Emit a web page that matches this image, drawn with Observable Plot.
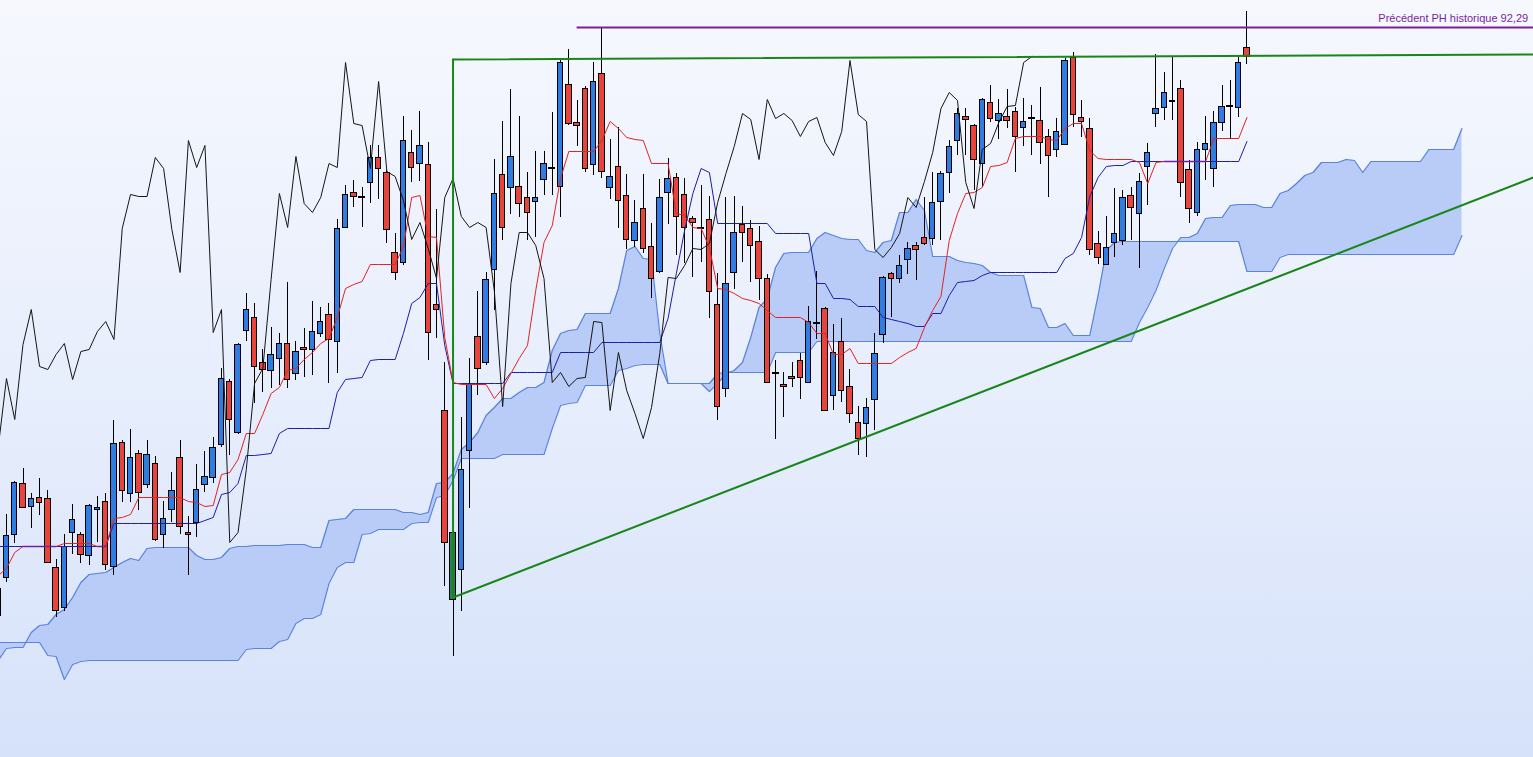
<!DOCTYPE html>
<html><head><meta charset="utf-8">
<script src="https://cdn.jsdelivr.net/npm/d3@7"></script>
<script src="https://cdn.jsdelivr.net/npm/@observablehq/plot@0.6"></script>
<style>html,body{margin:0;padding:0;overflow:hidden;background:#eef3fd}#chart svg{display:block}</style>
</head><body><div id="chart"></div>
<script>
// ---- candle data (index k = bar number) ----
const open = [
33.5,37.3,41.6,46.7,44.4,45.3,45.2,38.3,34.3,41.8,
41.6,39.5,44.1,44.9,38.4,50.8,45.7,49.7,46.6,48.7,
41.6,44.1,49.3,41.8,42.8,46.6,47.3,50.6,56.9,51.8,
62.0,63.3,58.8,58.0,59.2,60.7,57.7,60.3,60.1,61.7,
63.6,60.9,72.3,75.8,75.4,76.8,79.3,77.8,69.8,68.8,
79.8,78.7,78.6,64.6,54.0,35.1,38.1,50.0,61.4,58.8,
68.1,77.6,76.3,76.4,75.3,74.9,77.1,78.3,76.4,86.6,
82.8,86.2,78.6,87.7,76.3,78.4,75.5,71.0,74.2,70.4,
67.9,75.8,77.3,75.6,73.2,72.3,73.1,64.6,56.2,67.8,
72.6,72.2,70.9,67.2,57.8,56.6,57.4,59.0,56.8,62.8,
64.2,55.5,60.9,56.4,52.8,52.7,55.1,61.6,67.7,67.2,
69.1,70.5,71.3,71.2,74.9,77.8,81.0,83.4,82.5,78.7,
84.8,83.0,83.4,83.9,82.3,83.3,83.0,81.4,80.1,80.6,
89.3,83.3,82.2,70.7,68.6,70.8,71.0,75.5,73.7,78.4,
83.7,84.3,85.0,86.2,78.1,73.8,80.1,78.2,82.8,84.5,
84.3,90.3];
const close = [
36.2,41.5,46.8,44.3,45.2,44.8,38.8,34.0,40.4,43.1,
39.6,44.5,44.3,38.6,50.7,46.0,49.3,45.8,49.6,41.1,
43.2,46.0,42.4,41.6,46.1,47.4,50.3,57.2,53.1,60.6,
64.1,58.4,58.1,59.6,60.7,57.1,59.9,60.1,61.9,62.9,
61.1,72.2,75.6,75.4,75.4,79.3,78.2,72.1,67.8,81.0,
78.3,80.5,61.8,64.1,40.8,41.8,48.1,56.7,58.2,67.1,
75.7,72.3,79.4,74.7,73.8,75.3,78.7,78.3,88.8,82.7,
82.5,78.2,86.9,77.9,77.4,75.0,71.1,72.8,70.2,67.2,
75.3,77.2,73.4,72.3,72.8,72.3,65.9,54.4,66.7,71.8,
71.8,70.5,67.2,56.8,57.8,56.4,57.2,57.3,62.9,62.8,
54.0,59.8,56.0,53.7,51.2,54.3,59.7,67.3,67.2,68.5,
70.2,70.1,70.7,74.8,77.7,80.4,83.7,83.1,79.1,85.1,
83.2,83.7,83.0,81.4,82.9,83.3,80.8,79.5,81.9,89.0,
83.6,82.9,70.1,69.3,70.3,71.7,75.3,74.3,76.9,79.8,
84.2,85.8,85.0,76.8,74.2,80.1,80.7,82.8,84.4,84.5,
88.8,89.4];
const high = [
36.5,43.6,46.9,48.2,45.7,47.2,46.0,39.1,41.6,44.6,
41.8,44.6,45.4,45.7,53.0,51.0,52.1,50.0,51.0,49.4,
44.9,47.8,51.0,43.4,48.6,49.9,51.3,58.2,57.1,60.7,
65.7,64.7,60.1,62.3,61.7,66.8,60.9,62.2,64.9,64.3,
64.7,73.1,76.5,77.0,76.3,80.5,80.5,78.0,71.7,83.4,
82.0,83.9,80.8,74.1,58.8,42.5,53.3,59.2,65.9,67.8,
79.1,82.9,86.1,83.4,77.8,79.9,79.9,83.8,89.2,90.1,
85.0,86.4,88.8,92.3,81.1,82.3,77.6,75.0,77.6,72.7,
77.1,79.2,77.7,77.2,73.4,76.5,75.4,67.7,75.3,75.4,
74.4,73.0,72.4,67.6,59.0,57.8,58.8,59.7,64.4,67.9,
64.3,62.6,63.2,58.1,54.4,55.2,61.7,67.4,67.8,69.5,
70.8,70.8,75.3,77.8,77.9,81.0,84.2,84.2,82.6,85.2,
86.5,85.1,86.1,84.3,85.2,84.5,86.3,82.1,83.2,89.2,
89.8,85.0,83.2,71.9,73.4,76.2,76.0,76.3,77.7,80.7,
89.6,87.8,89.3,87.0,79.0,80.8,83.4,83.9,86.5,87.0,
89.5,93.9];
const low = [
33.2,36.8,40.7,44.2,42.2,43.5,38.7,33.3,33.9,39.6,
38.7,38.5,40.8,38.0,37.5,44.8,44.8,44.0,46.2,40.9,
40.2,42.8,41.6,37.5,41.3,45.8,46.7,50.3,49.5,51.6,
60.9,54.7,55.8,56.2,56.5,56.2,57.0,57.3,57.5,61.3,
56.7,57.7,72.2,74.3,72.3,74.7,75.1,70.7,67.0,68.5,
76.8,76.9,59.0,61.2,36.4,29.4,33.9,44.2,55.5,58.5,
64.0,71.0,73.6,73.3,71.0,71.3,75.5,75.5,73.3,82.5,
80.4,77.8,77.5,77.2,75.1,72.2,70.1,70.3,69.7,65.2,
67.7,72.6,69.5,68.7,67.3,68.8,63.2,53.0,55.3,66.1,
68.8,66.8,65.0,56.7,51.1,53.3,56.3,55.1,56.7,61.1,
53.9,54.0,54.8,52.7,49.5,49.3,52.0,60.7,63.3,66.7,
67.6,67.0,70.5,70.5,71.0,75.7,79.5,79.5,76.0,76.3,
82.8,81.1,82.2,77.8,80.4,79.5,78.6,75.3,79.3,80.5,
82.3,81.3,69.5,68.6,68.5,69.3,70.5,71.0,68.2,74.5,
82.3,83.0,83.0,75.3,72.7,73.4,77.0,76.3,81.9,81.1,
83.3,88.6];
// highlighted bar (the low that anchors the triangle)
const highlightBars = [55];

// ---- Ichimoku lines ----
const tenkan = [
37.5,38.2,39.8,40.4,40.4,40.4,40.4,40.4,40.7,40.7,
40.7,40.7,40.4,40.4,43.2,43.3,43.6,45.3,45.3,45.3,
45.3,45.3,45.3,44.9,44.8,44.4,44.5,47.6,47.8,49.1,
51.7,51.7,53.6,55.7,56.3,58.0,58.2,59.1,59.8,60.7,
61.2,63.3,66.2,66.6,66.9,68.6,68.6,68.6,68.6,70.4,
75.3,75.5,71.4,71.3,61.3,56.8,56.6,56.6,56.6,56.6,
55.2,56.2,57.7,59.2,60.5,66.0,70.8,72.5,77.2,79.9,
79.9,79.9,79.9,81.0,82.9,82.2,81.3,81.1,81.0,78.7,
78.7,78.7,73.7,73.5,72.3,72.2,70.3,66.2,66.1,65.7,
65.2,65.0,64.7,64.0,63.3,63.3,63.3,63.3,62.8,61.7,
61.7,59.6,59.6,60.2,58.7,58.7,58.7,58.7,58.7,59.3,
59.8,60.2,62.3,64.0,65.4,71.0,73.7,75.7,75.8,76.3,
78.4,78.5,78.8,81.2,81.4,81.4,81.4,81.1,81.0,82.2,
82.7,82.7,80.0,79.2,79.1,79.1,79.1,79.1,78.8,76.7,
78.8,78.9,78.9,78.9,78.9,78.9,78.9,81.2,81.2,81.2,
81.2,83.3];
const kijun = [
40.4,40.4,40.4,40.4,40.4,40.4,40.4,40.4,40.4,40.4,
40.4,40.4,40.4,40.4,42.7,42.7,42.7,42.7,42.7,42.7,
42.7,42.7,42.7,42.7,42.7,43.0,43.3,45.6,45.8,46.7,
49.5,49.5,49.6,49.7,51.7,52.2,52.2,52.2,52.2,52.2,
52.2,55.8,57.1,57.2,57.3,59.0,59.1,59.1,59.1,61.7,
64.7,65.3,66.7,66.7,60.5,56.7,56.7,56.7,56.7,56.7,
56.7,56.7,57.8,57.8,57.8,57.8,57.8,57.8,59.8,59.8,
59.8,59.8,59.8,60.8,60.8,60.8,60.8,60.8,60.8,60.8,
60.8,63.2,67.7,72.0,75.7,78.2,77.8,72.7,72.7,72.7,
72.7,72.7,72.7,72.7,71.7,71.7,71.7,71.7,71.7,66.7,
66.7,65.2,65.2,65.1,64.4,64.4,64.4,63.3,63.1,62.9,
62.7,62.4,62.4,63.7,63.7,65.5,66.8,66.9,67.0,67.5,
67.8,67.8,67.8,67.8,67.8,67.8,67.8,67.8,67.8,69.2,
69.7,71.3,75.4,77.3,78.4,78.5,78.5,78.9,78.9,78.9,
78.9,78.9,78.9,78.9,78.9,78.9,78.9,78.9,78.9,78.9,
78.9,80.9];
// cloud edges, bars 0..177 (extends 26 bars past the last candle)
const spanA = [
29.0,30.2,30.3,30.3,31.8,32.5,32.6,33.6,34.1,35.3,
36.8,37.6,37.7,37.8,38.3,38.8,39.2,39.0,40.2,40.3,
40.3,40.3,40.3,40.3,39.5,39.1,39.1,39.3,40.2,40.4,
40.4,40.5,40.5,40.5,40.5,40.6,40.6,40.6,40.3,40.3,
43.0,43.1,43.2,44.1,44.1,44.1,44.1,44.1,44.1,43.8,
43.8,43.6,43.8,46.7,46.8,47.7,50.1,50.8,51.8,53.5,
54.3,55.2,55.2,55.8,56.3,56.3,56.8,60.0,61.7,62.0,
62.1,63.7,63.7,63.7,63.7,66.2,70.0,70.4,69.2,69.1,
61.7,56.7,56.7,56.7,56.7,56.7,55.9,56.7,57.7,58.0,
58.8,61.3,64.3,65.2,68.3,69.7,69.8,69.8,69.8,71.2,
71.8,71.5,71.2,71.1,71.1,70.0,69.8,70.8,71.0,73.8,
73.8,75.1,74.0,69.4,69.4,69.4,69.0,68.8,68.7,68.5,
67.8,67.5,67.5,67.5,67.5,64.3,64.2,62.3,62.3,62.7,
61.5,61.5,61.5,65.5,70.0,70.8,70.9,70.9,70.9,70.9,
70.9,70.9,70.9,70.9,70.9,70.9,70.9,70.9,70.9,70.9,
70.9,67.9,67.9,67.9,67.9,69.3,69.6,69.6,69.6,69.6,
69.6,69.6,69.6,69.6,69.6,69.6,69.6,69.6,69.6,69.6,
69.6,69.6,69.6,69.6,69.6,69.6,69.6,71.5];
const spanB = [
30.8,30.8,30.8,30.8,30.8,30.8,29.5,29.4,27.1,28.6,
28.9,29.0,29.0,29.0,29.0,29.0,29.0,29.0,29.0,29.0,
29.0,29.0,29.0,29.0,29.0,29.0,29.0,29.0,29.0,29.0,
30.1,30.2,30.2,30.2,30.9,31.1,32.7,33.2,33.2,33.6,
36.7,38.3,38.8,38.8,41.6,41.7,42.1,42.1,42.1,42.1,
42.7,42.8,42.8,45.3,45.5,47.0,49.2,49.2,49.2,49.2,
49.2,49.6,49.6,49.6,49.6,49.6,49.6,52.2,54.5,54.7,
54.8,56.5,56.5,56.5,56.5,58.0,58.2,58.5,58.6,58.6,
58.6,56.7,56.7,56.7,56.7,56.7,56.7,57.7,57.8,57.8,
57.8,57.8,57.8,57.8,59.8,59.8,59.8,59.8,59.8,60.9,
60.9,60.9,60.9,60.9,60.9,60.9,60.9,60.9,60.9,60.9,
60.9,60.9,60.9,60.9,60.9,60.9,60.9,60.9,60.9,60.9,
60.9,60.9,60.9,60.9,60.9,60.9,60.9,60.9,60.9,60.9,
60.9,60.9,60.9,60.9,60.9,60.9,60.9,60.9,62.8,64.3,
66.0,68.2,70.2,71.3,71.3,71.7,73.2,73.3,73.3,74.5,
74.6,74.6,74.6,74.3,74.3,75.7,76.0,76.7,77.5,77.8,
78.8,78.8,78.8,79.1,79.0,77.8,78.9,78.9,78.9,78.9,
78.9,78.9,78.9,80.1,80.1,80.1,80.1,82.2];
const chikouShift = 26;

// ---- drawn annotations ----
const xMin = 0.278, xMax = 185.65;   // visible bar range
const yMin = 19.3, yMax = 95;        // visible price range
const trendNames = ["vertical", "resistance", "support"];
const trendBars  = [[55, 55], [55, xMax], [55, xMax]];
const trendPrice = [[35.3, 89.1], [89.1, 89.6], [35.3, 77.3]];
const phLevel = 92.29, phStartBar = 70;
const phLabel = "Précédent PH historique 92,29";

// ---- build tables ----
const bars = open.map((o, k) => ({k, o, c: close[k], h: high[k], l: low[k]}));
const up = bars.filter(d => d.c > d.o && !highlightBars.includes(d.k));
const down = bars.filter(d => d.c < d.o && !highlightBars.includes(d.k));
const hl = bars.filter(d => highlightBars.includes(d.k));
const doji = bars.filter(d => d.c === d.o);
const ind = tenkan.map((t, k) => ({k, t, j: kijun[k]}));
const both = ind.map(d => ({k: d.k, v: d.t === d.j ? d.t : NaN}));
const cloud = spanA.map((a, k) => ({k, a, b: spanB[k]}));
const chikou = close.slice(chikouShift).map((c, i) => ({k: i, c}));
const trend = trendNames.flatMap((n, i) => trendBars[i].map((k, j) => ({n, k, p: trendPrice[i][j]})));
const hw = 0.33;
const body = (data, fill) => Plot.rect(data, {x1: d => d.k - hw, x2: d => d.k + hw, y1: "o", y2: "c",
  fill, stroke: "#000", strokeWidth: 1, shapeRendering: "crispEdges"});

const chart = Plot.plot({
  width: 1533, height: 757,
  marginTop: 0, marginRight: 0, marginBottom: 0, marginLeft: 0,
  style: {background: "linear-gradient(180deg, #f6f8fe 0%, #e6edfc 55%, #d6e2fa 100%)"},
  x: {type: "linear", domain: [xMin, xMax], axis: null},
  y: {type: "linear", domain: [yMin, yMax], axis: null},
  marks: [
    Plot.areaY(cloud, {x: "k", y1: "a", y2: "b", fill: "#b8ccf7"}),
    Plot.line(cloud, {x: "k", y: "a", stroke: "#5b83dc", strokeWidth: 1.2}),
    Plot.line(cloud, {x: "k", y: "b", stroke: "#5b83dc", strokeWidth: 1.2}),
    Plot.ruleX(bars, {x: "k", y1: "l", y2: "h", stroke: "#000", strokeWidth: 1, shapeRendering: "crispEdges"}),
    body(up, "#2f7de2"),
    body(down, "#e8443b"),
    body(hl, "#2b7d5f"),
    Plot.ruleY(doji, {y: "c", x1: d => d.k - 0.42, x2: d => d.k + 0.42, stroke: "#000", strokeWidth: 2, shapeRendering: "crispEdges"}),
    Plot.line(ind, {x: "k", y: "j", stroke: "#1e1ea6", strokeWidth: 1}),
    Plot.line(ind, {x: "k", y: "t", stroke: "#e52222", strokeWidth: 1}),
    Plot.line(both, {x: "k", y: "v", stroke: "#75209a", strokeWidth: 1.4}),
    Plot.line(chikou, {x: "k", y: "c", stroke: "#151515", strokeWidth: 1}),
    Plot.line(trend, {x: "k", y: "p", z: "n", stroke: "#1a861a", strokeWidth: 2}),
    Plot.ruleY([phLevel], {y: d => d, x1: phStartBar, x2: xMax, stroke: "#7a1f96", strokeWidth: 2}),
    Plot.text([phLabel], {x: xMax - 0.65, y: phLevel, text: d => d, textAnchor: "end", dy: -9,
      fill: "#7a1f9e", fontSize: 11, fontFamily: "Liberation Sans, Arial, sans-serif"})
  ]
});
document.getElementById("chart").appendChild(chart);
</script>
</body></html>
